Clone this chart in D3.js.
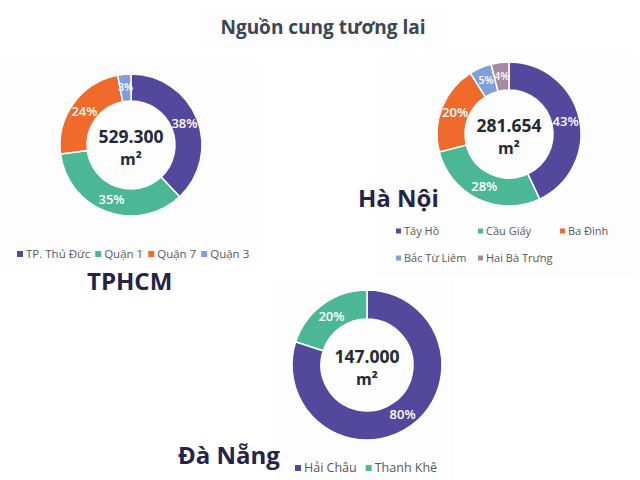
<!DOCTYPE html>
<html>
<head>
<meta charset="utf-8">
<script src="https://cdn.jsdelivr.net/npm/d3@7"></script>
<style>
  body { margin: 0; background: #fff; }
  svg { display: block; font-family: "Open Sans", "Noto Sans", sans-serif; }
</style>
</head>
<body>
<script>
// Nguồn cung tương lai — dữ liệu
const hcmDistricts = ["TP. Thủ Đức", "Quận 1", "Quận 7", "Quận 3"];
const hcmShares = [38, 35, 24, 3];
const hcmTotal = "529.300";

const hnDistricts = ["Tây Hồ", "Cầu Giấy", "Ba Đình", "Bắc Từ Liêm", "Hai Bà Trưng"];
const hnShares = [43, 28, 20, 5, 4];
const hnTotal = "281.654";

const dnDistricts = ["Hải Châu", "Thanh Khê"];
const dnShares = [80, 20];
const dnTotal = "147.000";

const mau = ["#54489d", "#4cb795", "#ef6a2b", "#7f9fd9", "#a58aa6"];

const svg = d3.select("body")
              .append("svg")
              .attr("width", 640)
              .attr("height", 480);

// nền nhẹ cho các khung
svg.append("rect").attr("x", 200).attr("y", 8).attr("width", 242).attr("height", 40).attr("fill", "#fdfdfd");
svg.append("rect").attr("x", 0).attr("y", 62).attr("width", 258).attr("height", 203).attr("fill", "#fdfdfd");
svg.append("rect").attr("x", 376).attr("y", 55).attr("width", 258).attr("height", 222).attr("fill", "#fdfdfd");
svg.append("rect").attr("x", 278).attr("y", 280).attr("width", 175).attr("height", 200).attr("fill", "#fdfdfd");

svg.append("text")
   .attr("x", 323)
   .attr("y", 34)
   .attr("text-anchor", "middle")
   .attr("font-size", 19)
   .attr("font-weight", 700)
   .attr("fill", "#3a4654")
   .text("Nguồn cung tương lai");

function veDonut(cx, cy, rNgoai, rTrong, ten, giaTri, tong) {
  const g = svg.append("g").attr("transform", "translate(" + cx + ", " + cy + ")");
  const pie = d3.pie().sort(null).value(function(d) { return d; });
  const arc = d3.arc().innerRadius(rTrong).outerRadius(rNgoai);
  const arcNhan = d3.arc().innerRadius((rTrong + rNgoai) / 2).outerRadius((rTrong + rNgoai) / 2);
  const mauScale = d3.scaleOrdinal().domain(ten).range(mau);
  const cung = pie(giaTri);

  g.selectAll("path")
   .data(cung)
   .enter()
   .append("path")
   .attr("d", arc)
   .attr("fill", function(d, i) { return mauScale(ten[i]); })
   .attr("stroke", "#fff")
   .attr("stroke-width", 1.5);

  // lát nhỏ: chữ nhỏ hơn để không chồng nhau
  g.selectAll("text.nhan")
   .data(cung)
   .enter()
   .append("text")
   .attr("class", "nhan")
   .attr("transform", function(d) { return "translate(" + arcNhan.centroid(d) + ")"; })
   .attr("text-anchor", "middle")
   .attr("dy", "0.35em")
   .attr("font-size", function(d) { return d.data <= 5 ? 10.5 : 13; })
   .attr("font-weight", 600)
   .attr("fill", "#fff")
   .text(function(d) { return d.data + "%"; });

  g.append("text")
   .attr("y", -2)
   .attr("text-anchor", "middle")
   .attr("font-size", 17.5)
   .attr("font-weight", 700)
   .attr("fill", "#222a35")
   .text(tong);

  g.append("text")
   .attr("y", 20)
   .attr("text-anchor", "middle")
   .attr("font-size", 16)
   .attr("font-weight", 700)
   .attr("fill", "#222a35")
   .text("m²");
}

// chú thích dạng dòng
function veChuThich(x, y, ten, coChu, khoang) {
  let vt = x;
  ten.forEach(function(t, i) {
    svg.append("rect")
       .attr("x", vt)
       .attr("y", y - 3)
       .attr("width", 6)
       .attr("height", 6)
       .attr("fill", mau[i]);
    const txt = svg.append("text")
       .attr("x", vt + 9)
       .attr("y", y)
       .attr("dy", "0.35em")
       .attr("font-size", coChu)
       .attr("fill", "#595959")
       .text(t);
    vt = vt + 9 + txt.node().getComputedTextLength() + khoang;
  });
}

// chú thích dạng lưới
function veChuThichLuoi(x, y, ten, coChu, cot, rongCot, caoDong) {
  ten.forEach(function(t, i) {
    const px = x + (i % cot) * rongCot;
    const py = y + Math.floor(i / cot) * caoDong;
    svg.append("rect")
       .attr("x", px)
       .attr("y", py - 2.5)
       .attr("width", 5)
       .attr("height", 5)
       .attr("fill", mau[i]);
    svg.append("text")
       .attr("x", px + 8)
       .attr("y", py)
       .attr("dy", "0.35em")
       .attr("font-size", coChu)
       .attr("fill", "#595959")
       .text(t);
  });
}

function veTenThanhPho(x, y, ten) {
  svg.append("text")
     .attr("x", x)
     .attr("y", y)
     .attr("font-size", 24)
     .attr("font-weight", 700)
     .attr("fill", "#24244a")
     .text(ten);
}

// TPHCM
veDonut(131, 145, 71, 44, hcmDistricts, hcmShares, hcmTotal);
veChuThich(17, 254, hcmDistricts, 11.5, 5);
veTenThanhPho(87, 290, "TPHCM");

// Hà Nội
veDonut(509, 134, 72, 44, hnDistricts, hnShares, hnTotal);
veChuThichLuoi(396, 231, hnDistricts, 11, 3, 82, 27);
veTenThanhPho(358, 207, "Hà Nội");

// Đà Nẵng
veDonut(367, 365, 75, 46, dnDistricts, dnShares, dnTotal);
veChuThich(295, 468, dnDistricts, 12.5, 9);
veTenThanhPho(178, 464, "Đà Nẵng");
</script>
</body>
</html>
